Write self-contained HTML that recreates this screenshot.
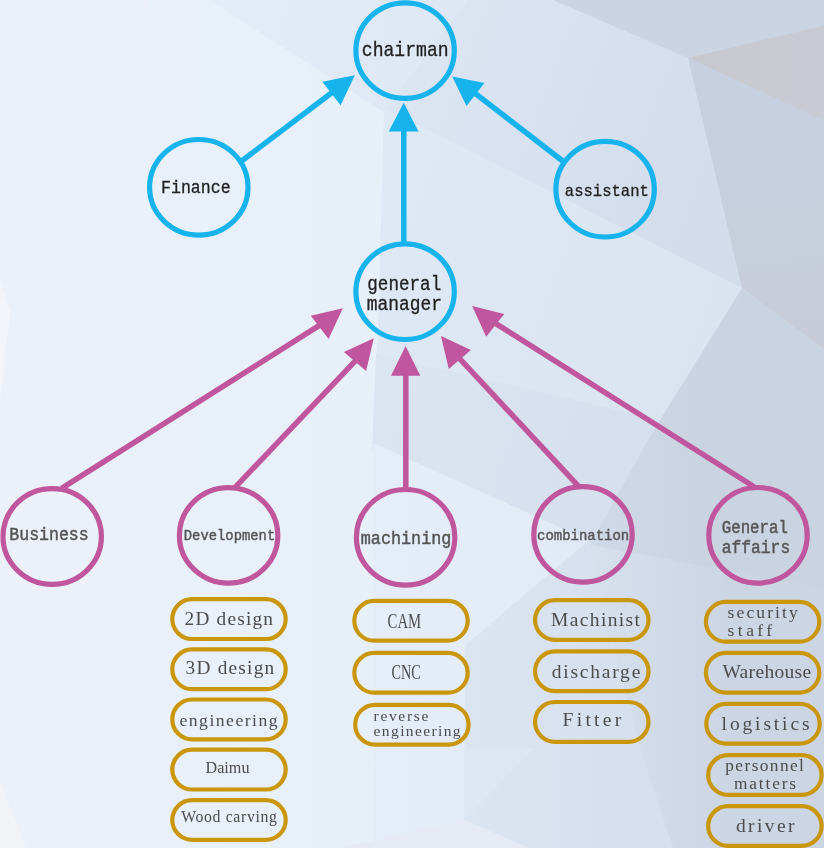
<!DOCTYPE html>
<html lang="en"><head><meta charset="utf-8"><title>Organization chart</title>
<style>html,body{margin:0;padding:0;background:#E7EFF9;}body{width:824px;height:848px;overflow:hidden;}svg{display:block;will-change:transform;}.c{font-family:"Liberation Mono","DejaVu Sans Mono",monospace;}.p{font-family:"Liberation Serif","DejaVu Serif",serif;}</style></head><body>
<svg width="824" height="848" viewBox="0 0 824 848">
<defs><linearGradient id="g0" x1="0" y1="0" x2="1" y2="0"><stop offset="0" stop-color="#EAF1FA"/><stop offset="1" stop-color="#E4EDF8"/></linearGradient><linearGradient id="gA" gradientUnits="userSpaceOnUse" x1="210" y1="0" x2="455" y2="60"><stop offset="0" stop-color="#E3ECF7"/><stop offset="1" stop-color="#DEE8F4"/></linearGradient><linearGradient id="gB" gradientUnits="userSpaceOnUse" x1="420" y1="0" x2="740" y2="120"><stop offset="0" stop-color="#DCE6F3"/><stop offset="1" stop-color="#D2DCEB"/></linearGradient><linearGradient id="gM" gradientUnits="userSpaceOnUse" x1="380" y1="200" x2="740" y2="330"><stop offset="0" stop-color="#DFE9F5"/><stop offset="1" stop-color="#DAE4F1"/></linearGradient><linearGradient id="gM2" gradientUnits="userSpaceOnUse" x1="376" y1="400" x2="640" y2="480"><stop offset="0" stop-color="#DBE5F2"/><stop offset="1" stop-color="#D5DFED"/></linearGradient><linearGradient id="gR" gradientUnits="userSpaceOnUse" x1="760" y1="60" x2="780" y2="340"><stop offset="0" stop-color="#C6D0E0"/><stop offset="0.6" stop-color="#C7CFDD"/><stop offset="1" stop-color="#C8CCD8"/></linearGradient><linearGradient id="gBot" gradientUnits="userSpaceOnUse" x1="373" y1="0" x2="600" y2="0"><stop offset="0" stop-color="#E5EEF8"/><stop offset="1" stop-color="#E0E9F5"/></linearGradient><linearGradient id="gBot2" gradientUnits="userSpaceOnUse" x1="465" y1="0" x2="650" y2="0"><stop offset="0" stop-color="#DBE5F2"/><stop offset="1" stop-color="#D5DFED"/></linearGradient><linearGradient id="gBR" gradientUnits="userSpaceOnUse" x1="600" y1="0" x2="720" y2="0"><stop offset="0" stop-color="#CFD8E6"/><stop offset="1" stop-color="#CAD3E2"/></linearGradient><linearGradient id="gBR2" gradientUnits="userSpaceOnUse" x1="600" y1="0" x2="730" y2="0"><stop offset="0" stop-color="#D6DFEC"/><stop offset="1" stop-color="#CCD5E4"/></linearGradient><linearGradient id="gW" gradientUnits="userSpaceOnUse" x1="690" y1="60" x2="824" y2="60"><stop offset="0" stop-color="#C8C8CF"/><stop offset="1" stop-color="#C9CBD4"/></linearGradient></defs>
<rect width="824" height="848" fill="url(#g0)"/>
<g id="bg"><polygon points="0,0 150,0 79,159 10,312 0,300" fill="#ECF1F9" />
<polygon points="10,312 64,480 180,713 95,848 0,848 0,300" fill="#ECF1F9" />
<polygon points="0,280 10,312 0,400" fill="#F3F5FA" />
<polygon points="0,782 26,848 0,848" fill="#F2F3F7" />
<polygon points="385,113 210,0 485,0" fill="url(#gA)" />
<polygon points="385,110 468,0 824,0 824,360 742,298 390,119" fill="url(#gB)" />
<polygon points="730,282 824,340 824,848 655,848 628,748 574,540 648,414" fill="url(#gBR)" />
<polygon points="575,542 824,588 824,848 655,848 628,748" fill="url(#gBR2)" />
<polygon points="384,108 742,288 660,420 588,540 373,443 379,300" fill="url(#gM)" />
<polygon points="376,354 659,419.5 589,547 372,450" fill="url(#gM2)" />
<polygon points="373,443 588,540 600,848 373,848" fill="url(#gBot)" />
<polygon points="465.5,645 588,541 640,748 673,848 529,848 464,820" fill="url(#gBot2)" />
<polygon points="464,820 464,748 534,748" fill="#DCE7F3" />
<polygon points="340,848 464,820 529,848" fill="#E5EAF4" />
<polygon points="688,58 824,100 824,349 742,288" fill="url(#gR)" />
<polygon points="553,0 824,0 824,40 688,58" fill="#CAD4E3" />
<polygon points="688,58 824,25.5 824,120.4" fill="url(#gW)" /></g>
<g id="links" fill="none" stroke-width="5.5">
<line x1="241.0" y1="161.5" x2="334.0" y2="91.0" stroke="#17B3ED"/>
<line x1="403.8" y1="245.5" x2="403.8" y2="128" stroke="#17B3ED"/>
<line x1="564.3" y1="162.3" x2="473.5" y2="92.1" stroke="#17B3ED"/>
<line x1="61.6" y1="488.3" x2="323.0" y2="323.2" stroke="#C0569D"/>
<line x1="235.1" y1="487.3" x2="357.5" y2="358.7" stroke="#C0569D"/>
<line x1="405.8" y1="490.5" x2="405.8" y2="372" stroke="#C0569D"/>
<line x1="578.7" y1="486.4" x2="457.8" y2="356.7" stroke="#C0569D"/>
<line x1="754.1" y1="486.8" x2="493.5" y2="322.1" stroke="#C0569D"/>
</g><g id="heads">
<polygon points="354.9,75.3 322.3,81.8 340.6,105.2" fill="#17B3ED"/>
<polygon points="403.7,102.8 388.7,131.4 418.5,131.4" fill="#17B3ED"/>
<polygon points="452.2,76.5 484.5,83.1 466.5,106.0" fill="#17B3ED"/>
<polygon points="342.8,308.2 310.8,315.7 328.6,339.0" fill="#C0569D"/>
<polygon points="373.8,338.2 343.9,352.1 366.1,371.0" fill="#C0569D"/>
<polygon points="405.6,346 391,375.7 420.3,375.7" fill="#C0569D"/>
<polygon points="441.0,336.1 470.9,350.0 448.8,369.0" fill="#C0569D"/>
<polygon points="472.1,306.1 504.2,313.9 486.2,336.8" fill="#C0569D"/>
</g><g id="nodes" fill="none" stroke-width="5.2">
<ellipse cx="405.1" cy="50.6" rx="49.2" ry="47.8" stroke="#17B3ED"/>
<ellipse cx="198.8" cy="187.3" rx="49.2" ry="47.8" stroke="#17B3ED"/>
<ellipse cx="605.1" cy="189.2" rx="49.2" ry="47.8" stroke="#17B3ED"/>
<ellipse cx="405.1" cy="291.7" rx="49.2" ry="47.8" stroke="#17B3ED"/>
<ellipse cx="52.2" cy="536.5" rx="49.2" ry="47.8" stroke="#C0569D"/>
<ellipse cx="228.6" cy="535.4" rx="49.2" ry="47.8" stroke="#C0569D"/>
<ellipse cx="405.6" cy="537.3" rx="49.2" ry="47.8" stroke="#C0569D"/>
<ellipse cx="583.0" cy="534.4" rx="49.2" ry="47.8" stroke="#C0569D"/>
<ellipse cx="758.0" cy="535.3" rx="49.2" ry="47.8" stroke="#C0569D"/>
</g><g id="pills" fill="none" stroke="#C9960C" stroke-width="4.2">
<rect x="172.30" y="599.20" width="113.40" height="39.80" rx="19.90"/>
<rect x="172.30" y="649.40" width="113.40" height="39.80" rx="19.90"/>
<rect x="172.30" y="699.50" width="113.40" height="39.80" rx="19.90"/>
<rect x="172.30" y="749.70" width="113.40" height="39.80" rx="19.90"/>
<rect x="172.30" y="800.10" width="113.40" height="39.80" rx="19.90"/>
<rect x="354.30" y="600.90" width="113.40" height="39.80" rx="19.90"/>
<rect x="354.30" y="652.90" width="113.40" height="39.80" rx="19.90"/>
<rect x="355.20" y="704.80" width="113.40" height="39.80" rx="19.90"/>
<rect x="535.10" y="600.10" width="113.40" height="39.80" rx="19.90"/>
<rect x="535.10" y="651.30" width="113.40" height="39.80" rx="19.90"/>
<rect x="535.10" y="702.00" width="113.40" height="39.80" rx="19.90"/>
<rect x="705.90" y="601.90" width="113.40" height="39.80" rx="19.90"/>
<rect x="705.90" y="652.80" width="113.40" height="39.80" rx="19.90"/>
<rect x="706.30" y="703.80" width="113.40" height="39.80" rx="19.90"/>
<rect x="708.20" y="755.10" width="113.40" height="39.80" rx="19.90"/>
<rect x="708.20" y="806.10" width="113.40" height="39.80" rx="19.90"/>
</g><g id="clabels" class="c">
<text x="361.8" y="55.5" font-size="19.8" fill="#222222" stroke="#222222" stroke-width="0.3" textLength="86.8" lengthAdjust="spacingAndGlyphs">chairman</text>
<text x="161.0" y="192.5" font-size="18.3" fill="#222222" stroke="#222222" stroke-width="0.3" textLength="69.6" lengthAdjust="spacingAndGlyphs">Finance</text>
<text x="564.8" y="196.0" font-size="17.0" fill="#222222" stroke="#222222" stroke-width="0.3" textLength="84.1" lengthAdjust="spacingAndGlyphs">assistant</text>
<text x="367.3" y="289.6" font-size="19.3" fill="#222222" stroke="#222222" stroke-width="0.3" textLength="73.9" lengthAdjust="spacingAndGlyphs">general</text>
<text x="366.8" y="309.5" font-size="19.3" fill="#222222" stroke="#222222" stroke-width="0.3" textLength="75.2" lengthAdjust="spacingAndGlyphs">manager</text>
<text x="9.3" y="540.2" font-size="18.3" fill="#555555" stroke="#555555" stroke-width="0.45" textLength="79.4" lengthAdjust="spacingAndGlyphs">Business</text>
<text x="183.8" y="540.4" font-size="15.3" fill="#555555" stroke="#555555" stroke-width="0.45" textLength="91.4" lengthAdjust="spacingAndGlyphs">Development</text>
<text x="360.8" y="544.4" font-size="18.3" fill="#555555" stroke="#555555" stroke-width="0.45" textLength="90.6" lengthAdjust="spacingAndGlyphs">machining</text>
<text x="537.1" y="539.5" font-size="15.2" fill="#555555" stroke="#555555" stroke-width="0.45" textLength="92.1" lengthAdjust="spacingAndGlyphs">combination</text>
<text x="721.7" y="533.0" font-size="17.8" fill="#555555" stroke="#555555" stroke-width="0.45" textLength="66.3" lengthAdjust="spacingAndGlyphs">General</text>
<text x="721.7" y="553.1" font-size="17.8" fill="#555555" stroke="#555555" stroke-width="0.45" textLength="68.5" lengthAdjust="spacingAndGlyphs">affairs</text>
</g><g id="plabels" class="p" fill="#4C4C4C">
<text x="184.6" y="624.8" font-size="19.3" textLength="88.4" lengthAdjust="spacing" xml:space="preserve">2D design</text>
<text x="185.5" y="674.4" font-size="19.3" textLength="88.7" lengthAdjust="spacing" xml:space="preserve">3D design</text>
<text x="179.5" y="725.5" font-size="17.6" textLength="98.1" lengthAdjust="spacing" xml:space="preserve">engineering</text>
<text x="205.5" y="772.6" font-size="17.6" textLength="44.0" lengthAdjust="spacingAndGlyphs" xml:space="preserve">Daimu</text>
<text x="181.2" y="821.5" font-size="15.8" textLength="95.7" lengthAdjust="spacing" xml:space="preserve">Wood carving</text>
<text x="387.6" y="627.7" font-size="22" textLength="33.6" lengthAdjust="spacingAndGlyphs" xml:space="preserve">CAM</text>
<text x="391.5" y="678.9" font-size="21" textLength="29.2" lengthAdjust="spacingAndGlyphs" xml:space="preserve">CNC</text>
<text x="373.6" y="720.6" font-size="15.5" textLength="54.7" lengthAdjust="spacing" xml:space="preserve">reverse</text>
<text x="373.6" y="736.2" font-size="15.5" textLength="87.0" lengthAdjust="spacing" xml:space="preserve">engineering</text>
<text x="551.1" y="625.7" font-size="19.5" textLength="88.8" lengthAdjust="spacing" xml:space="preserve">Machinist</text>
<text x="551.7" y="677.6" font-size="19.5" textLength="88.6" lengthAdjust="spacing" xml:space="preserve">discharge</text>
<text x="562.5" y="725.8" font-size="19.5" textLength="58.8" lengthAdjust="spacing" xml:space="preserve">Fitter</text>
<text x="727.6" y="618.1" font-size="17.5" textLength="70.2" lengthAdjust="spacing" xml:space="preserve">security</text>
<text x="727.6" y="635.8" font-size="17.5" textLength="44.5" lengthAdjust="spacing" xml:space="preserve">staff</text>
<text x="722.4" y="677.6" font-size="19.5" textLength="88.8" lengthAdjust="spacing" xml:space="preserve">Warehouse</text>
<text x="721.6" y="729.5" font-size="19.5" textLength="87.9" lengthAdjust="spacing" xml:space="preserve">logistics</text>
<text x="725.3" y="771.4" font-size="17.3" textLength="78.6" lengthAdjust="spacing" xml:space="preserve">personnel</text>
<text x="734.0" y="789.3" font-size="17.3" textLength="62.1" lengthAdjust="spacing" xml:space="preserve">matters</text>
<text x="735.9" y="831.6" font-size="19.5" textLength="58.7" lengthAdjust="spacing" xml:space="preserve">driver</text>
</g></svg></body></html>
